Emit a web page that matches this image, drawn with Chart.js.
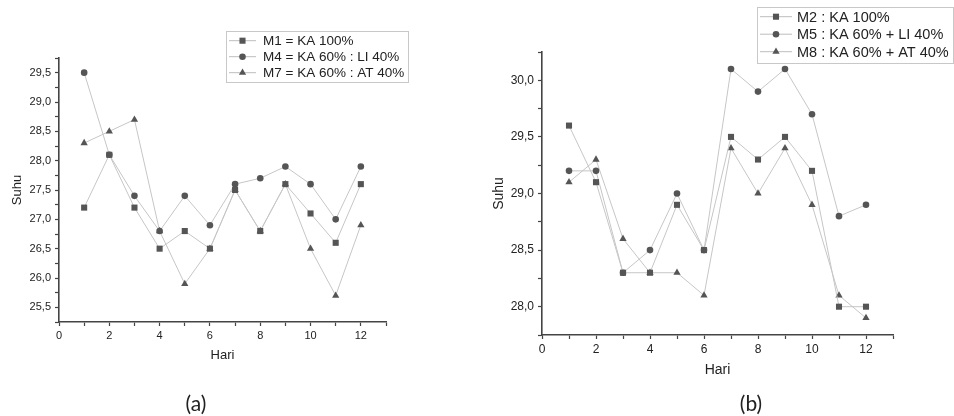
<!DOCTYPE html>
<html lang="id">
<head>
    <meta charset="UTF-8">
    <title>Suhu per Hari</title>
    <style>
        body { margin: 0; background: #fff; }
        .wrap { position: relative; width: 954px; height: 416px; overflow: hidden; }
        canvas { position: absolute; top: 0; }
        #grafikA { left: 0; }
        #grafikB { left: 480px; }
        .label { position: absolute; top: 390px; font-family: Lato, "Open Sans", sans-serif; font-size: 21px; color: #222; transform: translateX(-50%); line-height: 26px; }
    </style>
    <script src="https://cdn.jsdelivr.net/npm/chart.js"></script>
</head>
<body>
    <div class="wrap">
        <canvas id="grafikA" width="480" height="416"></canvas>
        <canvas id="grafikB" width="474" height="416"></canvas>
        <div class="label" style="left:196px">(a)</div>
        <div class="label" style="left:751px">(b)</div>
    </div>

    <script>
        const hari = [1, 2, 3, 4, 5, 6, 7, 8, 9, 10, 11, 12];

        // grafik (a)
        const namaA = ['M1 = KA 100%', 'M4 = KA 60% : LI 40%', 'M7 = KA 60% : AT 40%'];
        const m1 = [27.2, 28.1, 27.2, 26.5, 26.8, 26.5, 27.5, 26.8, 27.6, 27.1, 26.6, 27.6];
        const m4 = [29.5, 28.1, 27.4, 26.8, 27.4, 26.9, 27.6, 27.7, 27.9, 27.6, 27.0, 27.9];
        const m7 = [28.3, 28.5, 28.7, 26.8, 25.9, 26.5, 27.5, 26.8, 27.6, 26.5, 25.7, 26.9];

        // grafik (b)
        const namaB = ['M2 : KA 100%', 'M5 : KA 60% + LI 40%', 'M8 : KA 60% + AT 40%'];
        const m2 = [29.6, 29.1, 28.3, 28.3, 28.9, 28.5, 29.5, 29.3, 29.5, 29.2, 28.0, 28.0];
        const m5 = [29.2, 29.2, 28.3, 28.5, 29.0, 28.5, 30.1, 29.9, 30.1, 29.7, 28.8, 28.9];
        const m8 = [29.1, 29.3, 28.6, 28.3, 28.3, 28.1, 29.4, 29.0, 29.4, 28.9, 28.1, 27.9];

        const gaya = [
            { pointStyle: 'rect', pointRadius: 4.3 },
            { pointStyle: 'circle', pointRadius: 3.3 },
            { pointStyle: 'triangle', pointRadius: 4.2 }
        ];

        const fontArial = '"Liberation Sans", Arial, sans-serif';

        // legend kotak di dalam grafik
        const kotakLegenda = {
            id: 'kotakLegenda',
            afterDraw(chart, args, opt) {
                const ctx = chart.ctx;
                ctx.save();
                ctx.strokeStyle = '#c8c8c8';
                ctx.lineWidth = 1;
                ctx.strokeRect(opt.x + 0.5, opt.y + 0.5, opt.w, opt.h);
                ctx.font = opt.size + 'px ' + fontArial;
                ctx.textBaseline = 'middle';
                chart.data.datasets.forEach((ds, i) => {
                    const cy = opt.y + opt.first + i * opt.gap;
                    ctx.strokeStyle = '#bdbdbd';
                    ctx.beginPath();
                    ctx.moveTo(opt.x + 3, cy);
                    ctx.lineTo(opt.x + 3 + opt.line, cy);
                    ctx.stroke();
                    ctx.fillStyle = '#555';
                    Chart.helpers.drawPoint(ctx, { pointStyle: ds.pointStyle, radius: ds.pointRadius, borderWidth: 0 }, opt.x + 3 + opt.line / 2, cy);
                    ctx.fillStyle = '#222';
                    ctx.fillText(ds.label, opt.x + opt.text, cy + 1);
                });
                ctx.restore();
            }
        };

        function koma(v) {
            if (Math.abs(v * 2 - Math.round(v * 2)) > 1e-6) return '';
            return v.toFixed(1).replace('.', ',');
        }

        function buatGrafik(id, nama, seri, atur) {
            const datasets = seri.map((s, i) => ({
                label: nama[i],
                data: hari.map((h, j) => ({ x: h, y: s[j] })),
                borderColor: '#c6c6c6',
                borderWidth: 1,
                backgroundColor: '#555',
                pointBackgroundColor: '#555',
                pointBorderWidth: 0,
                pointStyle: gaya[i].pointStyle,
                pointRadius: gaya[i].pointRadius,
                tension: 0
            }));

            return new Chart(document.getElementById(id), {
                type: 'line',
                data: { datasets: datasets },
                plugins: [kotakLegenda],
                options: {
                    responsive: false,
                    animation: false,
                    layout: { padding: { top: atur.top, right: atur.right, left: 0, bottom: 0 } },
                    plugins: {
                        legend: { display: false },
                        tooltip: { enabled: false },
                        kotakLegenda: atur.legenda
                    },
                    scales: {
                        x: {
                            type: 'linear',
                            min: 0,
                            max: 13,
                            afterFit: s => { s.height = atur.bawah; },
                            border: { color: '#444', width: 1.6 },
                            grid: { drawOnChartArea: false, tickLength: 4, color: '#444', tickWidth: 1.2 },
                            ticks: {
                                stepSize: 1,
                                autoSkip: false,
                                maxRotation: 0,
                                padding: 3,
                                color: '#222',
                                font: { family: fontArial, size: atur.tick },
                                callback: v => (v % 2 === 0 ? String(v) : '')
                            },
                            title: {
                                display: true,
                                text: 'Hari',
                                color: '#222',
                                font: { family: fontArial, size: atur.judul },
                                padding: { top: 0, bottom: atur.hariPad }
                            }
                        },
                        y: {
                            min: atur.yMin,
                            max: atur.yMax,
                            afterFit: s => { s.width = atur.kiri; },
                            border: { color: '#444', width: 1.6 },
                            grid: { drawOnChartArea: false, tickLength: 4, color: '#444', tickWidth: 1.2 },
                            ticks: {
                                stepSize: 0.25,
                                autoSkip: false,
                                padding: 4,
                                color: '#222',
                                font: { family: fontArial, size: atur.tick },
                                callback: v => koma(v)
                            },
                            title: {
                                display: true,
                                text: 'Suhu',
                                color: '#222',
                                font: { family: fontArial, size: atur.judul },
                                padding: { top: atur.suhuPad, bottom: 0 }
                            }
                        }
                    }
                }
            });
        }

        buatGrafik('grafikA', namaA, [m1, m4, m7], {
            top: 58, right: 94, kiri: 59, bawah: 94,
            yMin: 25.25, yMax: 29.75,
            tick: 11, judul: 13, hariPad: 53, suhuPad: 10,
            legenda: { x: 226, y: 31, w: 182, h: 51, first: 9.7, gap: 16, line: 27, text: 37, size: 13.5 }
        });

        buatGrafik('grafikB', namaB, [m2, m5, m8], {
            top: 52, right: 61, kiri: 62, bawah: 81,
            yMin: 27.75, yMax: 30.25,
            tick: 12, judul: 14, hariPad: 37, suhuPad: 11,
            legenda: { x: 277, y: 7, w: 196, h: 56, first: 9.7, gap: 17.5, line: 32, text: 40, size: 14.5 }
        });
    </script>
</body>
</html>
